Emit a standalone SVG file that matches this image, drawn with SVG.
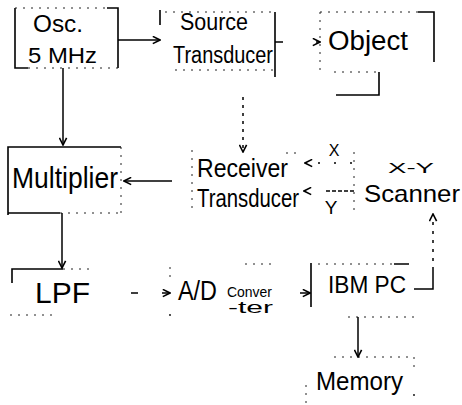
<svg xmlns="http://www.w3.org/2000/svg" width="462" height="405" viewBox="0 0 462 405">
  <defs>
    <style>
      .t { font-family: "Liberation Sans", Arial, sans-serif; fill: #000; }
      .s { stroke: #000; stroke-width: 1.6; fill: none; }
      .f { stroke: #222; stroke-width: 1; fill: none; stroke-dasharray: 2 6; }
      .c { stroke: #000; stroke-width: 1.5; fill: none; }
    </style>
    <marker id="ah" viewBox="0 0 10 10" refX="9" refY="5" markerWidth="9" markerHeight="9" markerUnits="userSpaceOnUse" orient="auto">
      <path d="M1,1 L9,5 L1,9" fill="none" stroke="#000" stroke-width="1.8"/>
    </marker>
  </defs>
  <rect width="462" height="405" fill="#fff"/>

  <!-- oscillator -->
  <g id="osc">
    <path class="s" d="M15,8 V68 H28 M107,8 H118 V68"/>
    <path class="f" d="M15,8 H107 M28,68 H118"/>
    <text class="t" x="33" y="32" font-size="24" textLength="50" lengthAdjust="spacingAndGlyphs">Osc.</text>
    <text class="t" x="28" y="63" font-size="22" textLength="69" lengthAdjust="spacingAndGlyphs">5 MHz</text>
  </g>

  <!-- source transducer -->
  <g id="source">
    <path class="s" d="M160,10 V25 M275,12 V77"/>
    <path class="f" d="M165,12 H275 M175,70 H275"/>
    <text class="t" x="180" y="30" font-size="24" textLength="68" lengthAdjust="spacingAndGlyphs">Source</text>
    <text class="t" x="173" y="63" font-size="23" textLength="100" lengthAdjust="spacingAndGlyphs">Transducer</text>
  </g>

  <!-- object -->
  <g id="object">
    <path class="f" d="M320,12 V72 M320,12 H418 M334,72 H379"/>
    <path class="s" d="M418,12 H434 V62 M379,72 V95 H336"/>
    <text class="t" x="328" y="50" font-size="27" textLength="80" lengthAdjust="spacingAndGlyphs">Object</text>
  </g>

  <!-- multiplier -->
  <g id="multiplier">
    <path class="s" d="M8,215 V147 H121 M8,213 H60"/>
    <path class="f" d="M121,147 V213 M60,213 H121"/>
    <text class="t" x="12" y="188" font-size="30" textLength="106" lengthAdjust="spacingAndGlyphs">Multiplier</text>
  </g>

  <!-- receiver transducer -->
  <g id="receiver">
    <path class="f" d="M192,150 V212 M286,153 H298"/>
    <text class="t" x="197" y="177" font-size="26" textLength="91" lengthAdjust="spacingAndGlyphs">Receiver</text>
    <text class="t" x="197" y="207" font-size="25" textLength="102" lengthAdjust="spacingAndGlyphs">Transducer</text>
  </g>

  <!-- x-y scanner -->
  <g id="scanner">
    <path class="f" d="M354,152 V212"/>
    <text class="t" x="388" y="173" font-size="15" textLength="46" lengthAdjust="spacingAndGlyphs">X-Y</text>
    <text class="t" x="364" y="202" font-size="24" textLength="96" lengthAdjust="spacingAndGlyphs">Scanner</text>
  </g>

  <!-- low-pass filter -->
  <g id="lpf">
    <path class="s" d="M12,283 V269 H63"/>
    <path class="f" d="M63,269 H90 M10,315 H58"/>
    <text class="t" x="35" y="303" font-size="30" textLength="55" lengthAdjust="spacingAndGlyphs">LPF</text>
  </g>

  <!-- A/D converter -->
  <g id="adc">
    <path class="f" d="M170,267 V283 M245,264 H277"/>
    <circle cx="170" cy="315" r="0.9" fill="#000"/>
    <text class="t" x="178" y="300" font-size="27" textLength="39" lengthAdjust="spacingAndGlyphs">A/D</text>
    <text class="t" x="227" y="297" font-size="14" textLength="45" lengthAdjust="spacingAndGlyphs">Conver</text>
    <text class="t" x="228" y="313" font-size="16" textLength="45" lengthAdjust="spacingAndGlyphs">-ter</text>
  </g>

  <!-- IBM PC -->
  <g id="ibmpc">
    <path class="s" d="M311,263 V307 M394,264 H409"/>
    <path class="f" d="M318,264 H394 M348,317 H416"/>
    <text class="t" x="328" y="293" font-size="24" textLength="78" lengthAdjust="spacingAndGlyphs">IBM PC</text>
  </g>

  <!-- memory -->
  <g id="memory">
    <path class="f" d="M334,357 H413 M414,357 V372 M306,385 V405"/>
    <circle cx="414" cy="395" r="0.9" fill="#000"/>
    <text class="t" x="316" y="390" font-size="25" textLength="87" lengthAdjust="spacingAndGlyphs">Memory</text>
  </g>

  <!-- signal paths -->
  <g id="connectors">
    <path class="c" d="M118,40 H160" marker-end="url(#ah)"/>
    <path class="c" d="M63,68 V145" marker-end="url(#ah)"/>
    <path class="c" d="M275,42 H320" stroke-dasharray="8 33 6 20" marker-end="url(#ah)"/>
    <path class="c" d="M243,97 V152" stroke-width="1.1" stroke-dasharray="3 5" marker-end="url(#ah)"/>
    <path class="c" d="M172,181 H124" marker-end="url(#ah)"/>
    <path class="c" d="M352,163 H305" stroke-width="1" stroke-dasharray="2 14" marker-end="url(#ah)"/>
    <path class="c" d="M354,191 H304" stroke-width="1.1" stroke-dasharray="4 2 4 2 4 2 4 2 4 24" marker-end="url(#ah)"/>
    <text class="t" x="334" y="156" font-size="16" text-anchor="middle">X</text>
    <text class="t" x="331" y="214" font-size="19" text-anchor="middle">Y</text>
    <path class="c" d="M62,213 V268" marker-end="url(#ah)"/>
    <path class="c" d="M131,293 H170" stroke-dasharray="7 24 8" marker-end="url(#ah)"/>
    <path class="c" d="M300,293 H310" marker-end="url(#ah)"/>
    <path class="c" d="M414,289 H433 V270"/>
    <path class="c" d="M433,270 V214" stroke-width="1.1" stroke-dasharray="3 6" marker-end="url(#ah)"/>
    <path class="c" d="M358,317 V357" marker-end="url(#ah)"/>
  </g>
</svg>
